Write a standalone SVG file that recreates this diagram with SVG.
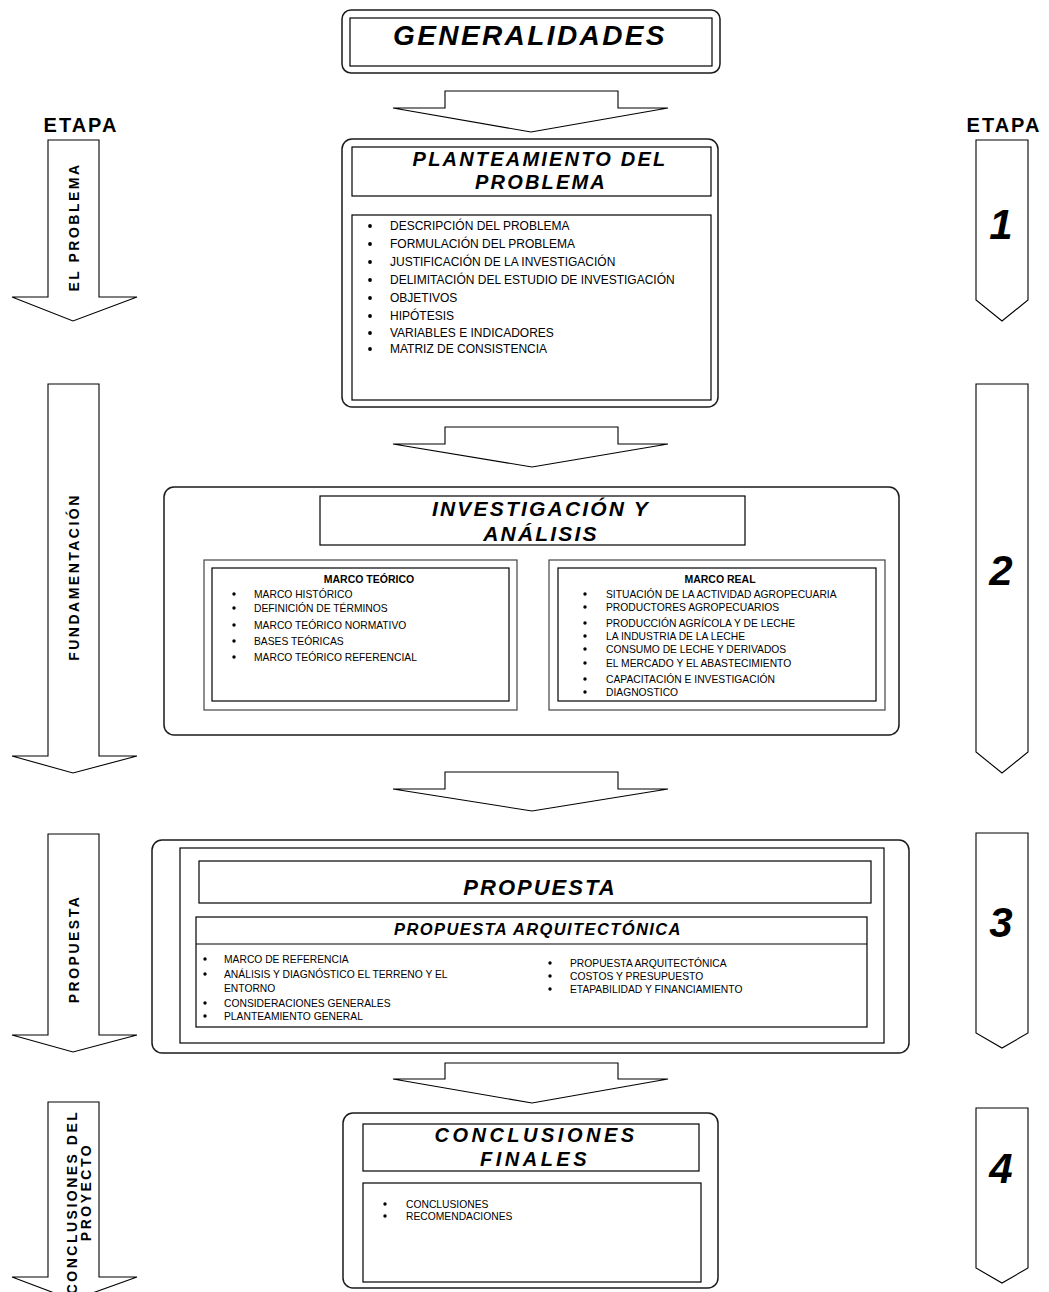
<svg xmlns="http://www.w3.org/2000/svg" width="1049" height="1292" viewBox="0 0 1049 1292">
<style>
.rbox{fill:#fff;stroke:#1a1a1a;stroke-width:1.5}
.box{fill:#fff;stroke:#000;stroke-width:1.2}
.frame{fill:#fff;stroke:#444;stroke-width:1.2}
.arrow{fill:#fff;stroke:#000;stroke-width:1.1}
.t{font-family:"Liberation Sans",Arial,sans-serif;font-weight:bold;font-style:italic;fill:#000;text-anchor:middle}
.li{font-family:"Liberation Sans",Arial,sans-serif;font-size:10.3px;fill:#000}
.lg{font-size:12px}
.hd{font-family:"Liberation Sans",Arial,sans-serif;font-size:10.5px;font-weight:bold;text-anchor:middle}
.side{font-family:"Liberation Sans",Arial,sans-serif;font-weight:bold;font-size:14px;letter-spacing:2.5px;text-anchor:middle}
.etapa{font-family:"Liberation Sans",Arial,sans-serif;font-weight:bold;font-size:20px;letter-spacing:2px;text-anchor:middle}
.num{font-family:"Liberation Sans",Arial,sans-serif;font-weight:bold;font-style:italic;font-size:42px;text-anchor:middle}
.b{fill:#000}
</style>

<g id="connectors">
  <path class="arrow" d="M445,91 H618 V108 H668 L531,132 L393,108 H445 Z"/>
  <path class="arrow" d="M445,427 H618 V444 H668 L532,467 L393,444 H445 Z"/>
  <path class="arrow" d="M445,772 H618 V789 H668 L532,811 L393,789 H445 Z"/>
  <path class="arrow" d="M445,1063 H618 V1079 H668 L532,1103 L393,1079 H445 Z"/>
</g>

<g id="etapa-left">
  <text class="etapa" x="81" y="132">ETAPA</text>
</g>
<g id="etapa-right">
  <text class="etapa" x="1004" y="132">ETAPA</text>
</g>

<g id="stage-left-1">
  <path class="arrow" d="M48,140 H99 V297 H137 L73,321 L12,297 H48 Z"/>
  <text class="side" transform="translate(79,227) rotate(-90)">EL PROBLEMA</text>
</g>
<g id="stage-left-2">
  <path class="arrow" d="M48,384 H99 V756 H137 L73,773 L12,756 H48 Z"/>
  <text class="side" transform="translate(79,577) rotate(-90)">FUNDAMENTACIÓN</text>
</g>
<g id="stage-left-3">
  <path class="arrow" d="M48,834 H99 V1035 H137 L73,1052 L12,1035 H48 Z"/>
  <text class="side" transform="translate(79,949) rotate(-90)">PROPUESTA</text>
</g>
<g id="stage-left-4">
  <path class="arrow" d="M48,1102 H99 V1277 H137 L73,1300 L12,1277 H48 Z"/>
  <text class="side" transform="translate(77,1202) rotate(-90)">CONCLUSIONES  DEL</text>
  <text class="side" transform="translate(91,1192) rotate(-90)">PROYECTO</text>
</g>

<g id="stage-right-1">
  <path class="arrow" d="M976,140 H1028 V300 L1002,321 L976,300 Z"/>
  <text class="num" x="1001" y="239">1</text>
</g>
<g id="stage-right-2">
  <path class="arrow" d="M976,384 H1028 V752 L1002,773 L976,752 Z"/>
  <text class="num" x="1001" y="585">2</text>
</g>
<g id="stage-right-3">
  <path class="arrow" d="M976,833 H1028 V1033 L1002,1048 L976,1033 Z"/>
  <text class="num" x="1001" y="937">3</text>
</g>
<g id="stage-right-4">
  <path class="arrow" d="M976,1108 H1028 V1268 L1002,1283 L976,1268 Z"/>
  <text class="num" x="1001" y="1183">4</text>
</g>

<g id="generalidades">
  <rect class="rbox" x="342" y="10" width="378" height="63" rx="9"/>
  <rect class="box" x="350" y="18" width="362" height="48"/>
  <text class="t" x="530" y="45" font-size="28" letter-spacing="2.4">GENERALIDADES</text>
</g>

<g id="planteamiento">
  <rect class="rbox" x="342" y="139" width="376" height="268" rx="10"/>
  <rect class="box" x="352" y="147" width="359" height="49"/>
  <text class="t" x="540" y="166" font-size="20" letter-spacing="2.2">PLANTEAMIENTO DEL</text>
  <text class="t" x="541" y="189" font-size="20" letter-spacing="2.2">PROBLEMA</text>
  <rect class="box" x="352" y="215" width="359" height="185"/>
  <g class="li lg">
    <circle class="b" cx="370" cy="226" r="1.9"/><text x="390" y="230">DESCRIPCIÓN DEL PROBLEMA</text>
    <circle class="b" cx="370" cy="244" r="1.9"/><text x="390" y="248">FORMULACIÓN DEL PROBLEMA</text>
    <circle class="b" cx="370" cy="262" r="1.9"/><text x="390" y="266">JUSTIFICACIÓN DE LA INVESTIGACIÓN</text>
    <circle class="b" cx="370" cy="280" r="1.9"/><text x="390" y="284">DELIMITACIÓN DEL ESTUDIO DE INVESTIGACIÓN</text>
    <circle class="b" cx="370" cy="298" r="1.9"/><text x="390" y="302">OBJETIVOS</text>
    <circle class="b" cx="370" cy="316" r="1.9"/><text x="390" y="320">HIPÓTESIS</text>
    <circle class="b" cx="370" cy="333" r="1.9"/><text x="390" y="337">VARIABLES E INDICADORES</text>
    <circle class="b" cx="370" cy="349" r="1.9"/><text x="390" y="353">MATRIZ DE CONSISTENCIA</text>
  </g>
</g>

<g id="investigacion">
  <rect class="rbox" x="164" y="487" width="735" height="248" rx="10"/>
  <rect class="box" x="320" y="496" width="425" height="49"/>
  <text class="t" x="541" y="516" font-size="21" letter-spacing="2.2">INVESTIGACIÓN Y</text>
  <text class="t" x="541" y="541" font-size="21" letter-spacing="2.2">ANÁLISIS</text>
  <g id="marco-teorico">
    <rect class="frame" x="204" y="560" width="313" height="150"/>
    <rect class="box" x="212" y="568" width="297" height="133"/>
    <text class="hd" x="369" y="583">MARCO TEÓRICO</text>
    <g class="li">
      <circle class="b" cx="234" cy="594" r="1.7"/><text x="254" y="598">MARCO HISTÓRICO</text>
      <circle class="b" cx="234" cy="608" r="1.7"/><text x="254" y="612">DEFINICIÓN DE TÉRMINOS</text>
      <circle class="b" cx="234" cy="625" r="1.7"/><text x="254" y="629">MARCO TEÓRICO NORMATIVO</text>
      <circle class="b" cx="234" cy="641" r="1.7"/><text x="254" y="645">BASES TEÓRICAS</text>
      <circle class="b" cx="234" cy="657" r="1.7"/><text x="254" y="661">MARCO TEÓRICO REFERENCIAL</text>
    </g>
  </g>
  <g id="marco-real">
    <rect class="frame" x="549" y="560" width="336" height="150"/>
    <rect class="box" x="558" y="568" width="318" height="133"/>
    <text class="hd" x="720" y="583">MARCO REAL</text>
    <g class="li">
      <circle class="b" cx="585" cy="594" r="1.7"/><text x="606" y="598">SITUACIÓN DE LA ACTIVIDAD AGROPECUARIA</text>
      <circle class="b" cx="585" cy="607" r="1.7"/><text x="606" y="611">PRODUCTORES AGROPECUARIOS</text>
      <circle class="b" cx="585" cy="623" r="1.7"/><text x="606" y="627">PRODUCCIÓN AGRÍCOLA Y DE LECHE</text>
      <circle class="b" cx="585" cy="636" r="1.7"/><text x="606" y="640">LA INDUSTRIA DE LA LECHE</text>
      <circle class="b" cx="585" cy="649" r="1.7"/><text x="606" y="653">CONSUMO DE LECHE Y DERIVADOS</text>
      <circle class="b" cx="585" cy="663" r="1.7"/><text x="606" y="667">EL MERCADO Y EL ABASTECIMIENTO</text>
      <circle class="b" cx="585" cy="679" r="1.7"/><text x="606" y="683">CAPACITACIÓN E INVESTIGACIÓN</text>
      <circle class="b" cx="585" cy="692" r="1.7"/><text x="606" y="696">DIAGNOSTICO</text>
    </g>
  </g>
</g>

<g id="propuesta">
  <rect class="rbox" x="152" y="840" width="757" height="213" rx="10"/>
  <rect class="box" x="180" y="848" width="704" height="195"/>
  <rect class="box" x="199" y="861" width="672" height="42"/>
  <text class="t" x="540" y="895" font-size="22" letter-spacing="2">PROPUESTA</text>
  <rect class="box" x="196" y="917" width="671" height="110"/>
  <line x1="196" y1="944" x2="867" y2="944" stroke="#000" stroke-width="1.1"/>
  <text class="t" x="538" y="935" font-size="16.5" letter-spacing="1.4">PROPUESTA ARQUITECTÓNICA</text>
  <g class="li">
    <circle class="b" cx="205" cy="959" r="1.7"/><text x="224" y="963">MARCO DE REFERENCIA</text>
    <circle class="b" cx="205" cy="974" r="1.7"/><text x="224" y="978">ANÁLISIS Y DIAGNÓSTICO EL TERRENO Y EL</text>
    <text x="224" y="992">ENTORNO</text>
    <circle class="b" cx="205" cy="1003" r="1.7"/><text x="224" y="1007">CONSIDERACIONES GENERALES</text>
    <circle class="b" cx="205" cy="1016" r="1.7"/><text x="224" y="1020">PLANTEAMIENTO GENERAL</text>
    <circle class="b" cx="550" cy="963" r="1.7"/><text x="570" y="967">PROPUESTA ARQUITECTÓNICA</text>
    <circle class="b" cx="550" cy="976" r="1.7"/><text x="570" y="980">COSTOS Y PRESUPUESTO</text>
    <circle class="b" cx="550" cy="989" r="1.7"/><text x="570" y="993">ETAPABILIDAD Y FINANCIAMIENTO</text>
  </g>
</g>

<g id="conclusiones">
  <rect class="rbox" x="343" y="1113" width="375" height="175" rx="10"/>
  <rect class="box" x="363" y="1124" width="336" height="47"/>
  <text class="t" x="536" y="1142" font-size="20" letter-spacing="3.5">CONCLUSIONES</text>
  <text class="t" x="535" y="1166" font-size="20" letter-spacing="3.5">FINALES</text>
  <rect class="box" x="363" y="1183" width="338" height="99"/>
  <g class="li">
    <circle class="b" cx="385" cy="1204" r="1.7"/><text x="406" y="1208">CONCLUSIONES</text>
    <circle class="b" cx="385" cy="1216" r="1.7"/><text x="406" y="1220">RECOMENDACIONES</text>
  </g>
</g>
</svg>
